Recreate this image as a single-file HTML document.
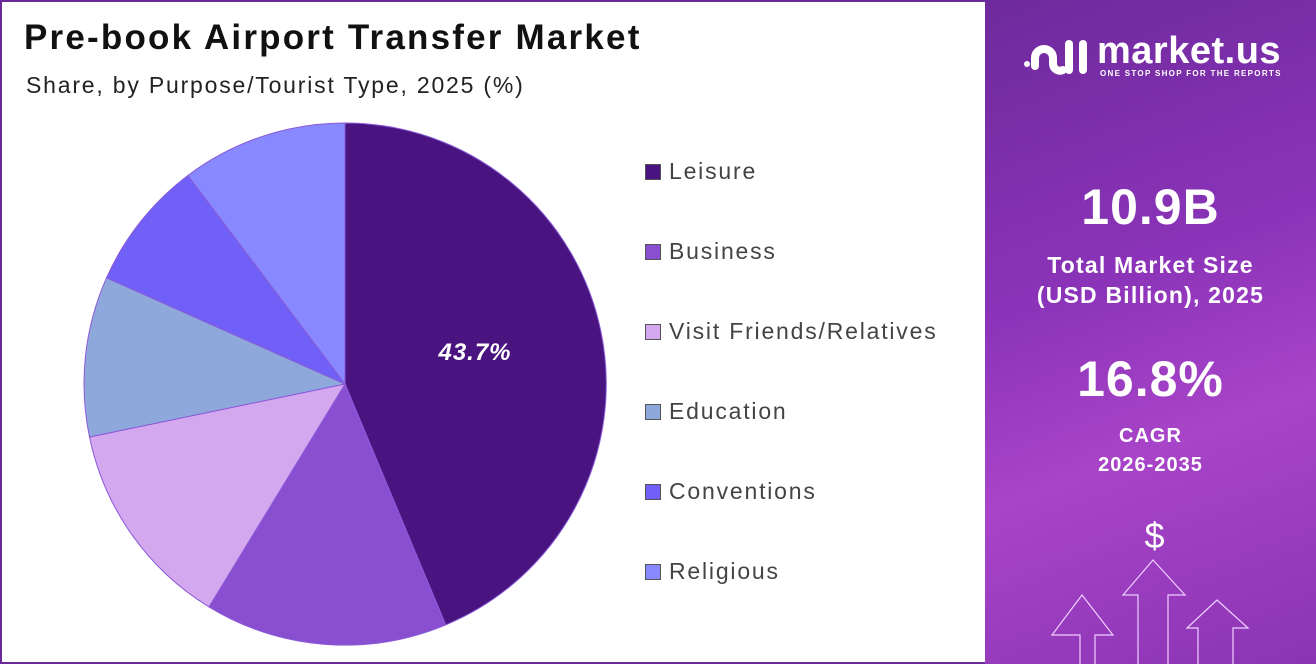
<!DOCTYPE html>
<html><head><style>
body{margin:0;width:1316px;height:664px;overflow:hidden;background:#fff;font-family:"Liberation Sans",sans-serif}
.wrap{position:absolute;left:0;top:0;width:1312px;height:660px;border:2px solid #6a2a9a;background:#fff}
h1{position:absolute;left:24px;top:18px;margin:0;font-size:35px;font-weight:bold;color:#111;letter-spacing:2.2px}
.sub{position:absolute;left:26px;top:72px;font-size:23px;color:#222;letter-spacing:1.8px}
.leg{position:absolute;left:645px;font-size:23px;color:#444;letter-spacing:1.8px}
.leg i{display:inline-block;width:14px;height:14px;border:1px solid #555;margin-right:8px;vertical-align:-1px}
.panel{position:absolute;left:985px;top:0;width:331px;height:664px;background:linear-gradient(160deg,#6e2a9c 0%,#8a33b8 40%,#a844c8 65%,#8a34b4 100%)}
.panel div{position:absolute;width:100%;text-align:center;color:#fff;font-weight:bold}
</style></head><body>
<div class="wrap"></div>
<h1>Pre-book Airport Transfer Market</h1>
<div class="sub">Share, by Purpose/Tourist Type, 2025 (%)</div>
<svg style="position:absolute;left:0;top:0" width="980" height="664">
<g stroke="#8a5ad8" stroke-width="1">
<path d="M345,384 L345,123 A261,261 0 0 1 445.7,624.9 Z" fill="#4a1480"/>
<path d="M345,384 L445.7,624.9 A261,261 0 0 1 209,606.9 Z" fill="#8a4fd0"/>
<path d="M345,384 L209,606.9 A261,261 0 0 1 89.5,437 Z" fill="#d4a8ef"/>
<path d="M345,384 L89.5,437 A261,261 0 0 1 106.5,277.8 Z" fill="#8fa8dc"/>
<path d="M345,384 L106.5,277.8 A261,261 0 0 1 187.9,175.5 Z" fill="#7060f8"/>
<path d="M345,384 L187.9,175.5 A261,261 0 0 1 345,123 Z" fill="#8888ff"/>
</g>
<text x="475" y="360" fill="#fff" font-size="24" font-weight="bold" font-style="italic" text-anchor="middle" font-family="Liberation Sans" letter-spacing="1">43.7%</text>
</svg>
<div class="leg" style="top:158px"><i style="background:#4a1480"></i>Leisure</div>
<div class="leg" style="top:238px"><i style="background:#8a4fd0"></i>Business</div>
<div class="leg" style="top:318px"><i style="background:#d4a8ef"></i>Visit Friends/Relatives</div>
<div class="leg" style="top:398px"><i style="background:#8fa8dc"></i>Education</div>
<div class="leg" style="top:478px"><i style="background:#7060f8"></i>Conventions</div>
<div class="leg" style="top:558px"><i style="background:#8888ff"></i>Religious</div>
<div class="panel">
<svg style="position:absolute;left:36px;top:36px" width="70" height="44" fill="none" stroke="#fff" stroke-width="8" stroke-linecap="round">
<circle cx="6" cy="28" r="3" fill="#fff" stroke="none"/>
<path d="M14,30 V22 a9,9 0 0 1 18,0 V28 a7,7 0 0 0 10,6"/>
<path d="M48,8 V34"/><path d="M62,8 V34"/>
</svg>
<div style="top:30px;left:112px;width:auto;font-size:38px;text-align:left;letter-spacing:0.5px">market.us</div>
<div style="top:69px;left:115px;width:auto;font-size:8px;letter-spacing:1.3px;text-align:left">ONE STOP SHOP FOR THE REPORTS</div>
<div style="top:178px;font-size:50px;letter-spacing:1px">10.9B</div>
<div style="top:250px;font-size:23px;line-height:30px;letter-spacing:1.2px">Total Market Size<br>(USD Billion), 2025</div>
<div style="top:350px;font-size:50px;letter-spacing:1px">16.8%</div>
<div style="top:422px;font-size:20px;line-height:29px;letter-spacing:1px">CAGR<br>2026-2035</div>
<div style="top:515px;font-size:36px;font-weight:normal;left:4px">$</div>
<svg style="position:absolute;left:0;top:555px" width="331" height="109" fill="none" stroke="#f0d0ff" stroke-width="1.2">
<path d="M95,109 V80 H67 L97,40 L128,80 H110 V109"/>
<path d="M153,109 V40 H138 L168,5 L200,40 H183 V109"/>
<path d="M213,109 V73 H202 L232,45 L263,73 H248 V109"/>
</svg>
</div>
</body></html>
